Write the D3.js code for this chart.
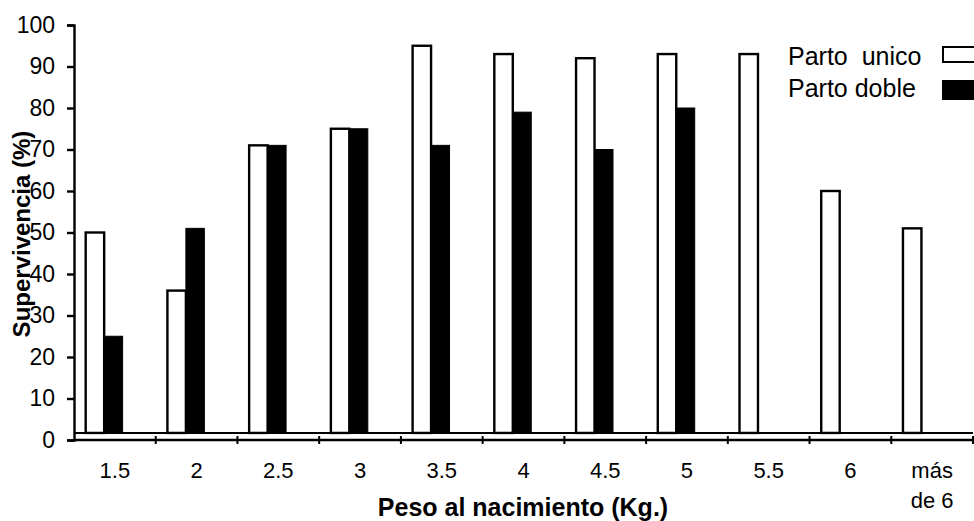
<!DOCTYPE html>
<html>
<head>
<meta charset="utf-8">
<script src="https://cdn.jsdelivr.net/npm/d3@7"></script>
<style>
  html, body { margin: 0; padding: 0; background: #fff; }
  svg { display: block; }
  text { font-family: "Liberation Sans", Arial, sans-serif; fill: #000; }
</style>
</head>
<body>
<svg id="chart" width="974" height="521"></svg>
<script>
const categories = ["1.5", "2", "2.5", "3", "3.5", "4", "4.5", "5", "5.5", "6", "más de 6"];
const partoUnico = [50, 36, 71, 75, 95, 93, 92, 93, 93, 60, 51];
const partoDoble = [25, 51, 71, 75, 71, 79, 70, 80, null, null, null];
const yTicks = [0, 10, 20, 30, 40, 50, 60, 70, 80, 90, 100];
const seriesNames = ["Parto  unico", "Parto doble"];
const baseValue = 1.7; // baseline line on which the bars stand (slightly above 0 in the scan)

(function () {
const svg = d3.select("#chart");
const mLeft = 74, mRight = 973, mTop = 25, mBottom = 440;

const x = d3.scaleBand().domain(categories).range([mLeft, mRight]).padding(0);
const y = d3.scaleLinear().domain([0, 100]).range([mBottom, mTop]);

const bw = x.bandwidth();
const barW = bw * 0.226;
const off = bw * 0.143;

// bars
const g = svg.append("g");
g.selectAll("rect.unico").data(categories).enter().append("rect")
  .attr("class", "unico")
  .attr("x", d => x(d) + off)
  .attr("y", (d, i) => y(partoUnico[i]))
  .attr("width", barW)
  .attr("height", (d, i) => y(baseValue) - y(partoUnico[i]))
  .attr("fill", "#fff").attr("stroke", "#000").attr("stroke-width", 2.4);

g.selectAll("rect.doble").data(categories.filter((d, i) => partoDoble[i] != null)).enter().append("rect")
  .attr("class", "doble")
  .attr("x", d => x(d) + off + barW)
  .attr("y", d => y(partoDoble[categories.indexOf(d)]))
  .attr("width", barW)
  .attr("height", d => y(baseValue) - y(partoDoble[categories.indexOf(d)]))
  .attr("fill", "#000").attr("stroke", "#000").attr("stroke-width", 1);

// baseline line under bars
svg.append("line")
  .attr("x1", mLeft).attr("x2", mRight)
  .attr("y1", y(baseValue)).attr("y2", y(baseValue))
  .attr("stroke", "#000").attr("stroke-width", 2);

// y axis
const yAxis = d3.axisLeft(y).tickValues(yTicks).tickSize(7).tickPadding(12).tickFormat(d3.format("d"));
const ya = svg.append("g").attr("transform", `translate(${mLeft},0)`).call(yAxis);
ya.select(".domain").attr("stroke-width", 2.4);
ya.selectAll(".tick line").attr("stroke-width", 2.4);
ya.selectAll(".tick text").style("font-size", "23px").attr("font-family", "Liberation Sans, Arial, sans-serif");

// x axis (ticks at category boundaries)
const xa = svg.append("g").attr("transform", `translate(0,${mBottom})`);
xa.append("line").attr("x1", mLeft).attr("x2", mRight).attr("y1", 0).attr("y2", 0)
  .attr("stroke", "#000").attr("stroke-width", 2.4);
xa.selectAll("line.tk").data(categories.slice(1).concat(["__end"])).enter().append("line")
  .attr("class", "tk")
  .attr("x1", d => d === "__end" ? mRight : x(d))
  .attr("x2", d => d === "__end" ? mRight : x(d))
  .attr("y1", -4).attr("y2", 4)
  .attr("stroke", "#000").attr("stroke-width", 2);
const lbl = xa.selectAll("text.lbl").data(categories).enter().append("text")
  .attr("class", "lbl")
  .attr("x", d => x(d) + bw / 2)
  .attr("y", 38)
  .attr("text-anchor", "middle")
  .style("font-size", "22px");
lbl.each(function(d) {
  const parts = d === "más de 6" ? ["más", "de 6"] : [d];
  const t = d3.select(this);
  parts.forEach((p, k) => {
    t.append("tspan").attr("x", x(d) + bw / 2).attr("dy", k === 0 ? 0 : 30).text(p);
  });
});

// axis titles
svg.append("text")
  .attr("x", 523).attr("y", 516)
  .attr("text-anchor", "middle")
  .style("font-size", "25px").style("font-weight", "bold")
  .text("Peso al nacimiento (Kg.)");

svg.append("text")
  .attr("transform", `translate(30,234) rotate(-90)`)
  .attr("text-anchor", "middle")
  .style("font-size", "24px").style("font-weight", "bold")
  .text("Supervivencia (%)");

// legend
const legend = svg.append("g");
const legY = [65, 97];
seriesNames.forEach((name, i) => {
  legend.append("text")
    .attr("x", 788).attr("y", legY[i])
    .style("font-size", "25px")
    .style("white-space", "pre")
    .attr("xml:space", "preserve")
    .text(name);
  legend.append("rect")
    .attr("x", 943).attr("y", legY[i] - (i === 0 ? 18 : 16))
    .attr("width", 40).attr("height", i === 0 ? 15 : 18)
    .attr("fill", i === 0 ? "#fff" : "#000")
    .attr("stroke", "#000").attr("stroke-width", 2);
});
})();
</script>
</body>
</html>
